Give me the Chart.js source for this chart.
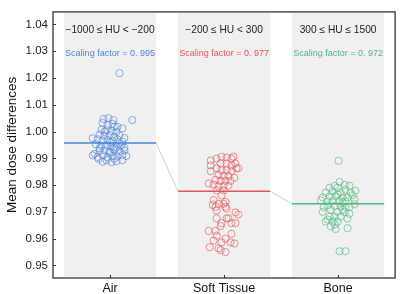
<!DOCTYPE html>
<html>
<head>
<meta charset="utf-8">
<script src="https://cdn.jsdelivr.net/npm/chart.js@4/dist/chart.umd.min.js"></script>
<style>
  html, body { margin: 0; padding: 0; background: #ffffff; }
  #wrap { width: 400px; height: 294px; }
</style>
</head>
<body>
<div id="wrap"><canvas id="doseChart" width="400" height="294"></canvas></div>
<script>
/* ---- data ---- */
const categories = ["Air", "Soft Tissue", "Bone"];
const rangeLabels = ["\u22121000 \u2264 HU < \u2212200", "\u2212200 \u2264 HU < 300", "300 \u2264 HU \u2264 1500"];
const factorLabels = ["Scaling factor = 0. 995", "Scaling factor = 0. 977", "Scaling factor = 0. 972"];
const meanValues = [0.9957, 0.9777, 0.9730];
const yTicks = [0.95, 0.96, 0.97, 0.98, 0.99, 1.00, 1.01, 1.02, 1.03, 1.04];

const airY = [1.0218, 1.0043, 1.0047, 1.0050, 1.0043, 1.0032, 1.0025, 1.0029, 1.0018, 1.0012,
  1.0007, 1.0005, 1.0002, 0.9999, 0.9989, 0.9984, 0.9987, 0.9980, 0.9986, 0.9975,
  0.9971, 0.9966, 0.9969, 0.9965, 0.9970, 0.9962, 0.9946, 0.9949, 0.9944, 0.9941,
  0.9947, 0.9940, 0.9928, 0.9930, 0.9925, 0.9931, 0.9926, 0.9929, 0.9911, 0.9905,
  0.9912, 0.9904, 0.9909, 0.9907, 0.9912, 0.9909, 0.9917, 0.9887, 0.9893, 0.9886,
  0.9889, 0.9893, 0.9899, 0.9953, 0.9960, 1.0018, 0.9999, 0.9956, 0.9938, 0.9921,
  0.9935, 0.9976, 0.9898];
const airJitter = [0.083, 0.196, -0.057, -0.013, 0.030, -0.065, -0.022, 0.022, 0.065, 0.109,
  -0.074, -0.030, 0.013, 0.057, -0.091, -0.048, -0.004, 0.039, 0.083, -0.152,
  -0.109, -0.065, -0.022, 0.022, 0.065, 0.109, -0.074, -0.030, 0.013, 0.057,
  0.100, 0.126, -0.091, -0.048, -0.004, 0.039, 0.083, 0.126, -0.152, -0.109,
  -0.065, -0.022, 0.022, 0.065, 0.109, 0.143, -0.135, -0.065, -0.030, 0.013,
  0.057, 0.109, 0.039, -0.126, 0.000, 0.039, -0.048, 0.083, -0.091, 0.000,
  0.030, 0.126, -0.100];

const softY = [0.9892, 0.9874, 0.9852, 0.9899, 0.9906, 0.9903, 0.9899, 0.9881, 0.9863, 0.9874,
  0.9881, 0.9881, 0.9863, 0.9856, 0.9856, 0.9852, 0.9838, 0.9834, 0.9834, 0.9820,
  0.9816, 0.9816, 0.9816, 0.9827, 0.9806, 0.9802, 0.9798, 0.9798, 0.9780, 0.9780,
  0.9795, 0.9863, 0.9906,
  0.9762, 0.9737, 0.9730, 0.9744, 0.9726, 0.9705, 0.9730, 0.9712, 0.9698, 0.9690,
  0.9676, 0.9658, 0.9676, 0.9658, 0.9647, 0.9629, 0.9629, 0.9618, 0.9600, 0.9568,
  0.9564, 0.9550, 0.9582, 0.9593, 0.9586, 0.9719, 0.9676, 0.9658, 0.9611, 0.9586,
  0.9557, 0.9719];
const softJitter = [-0.117, -0.117, -0.117, -0.065, -0.022, 0.022, 0.065, 0.100, 0.109, 0.065,
  0.022, -0.030, -0.065, -0.022, 0.022, 0.065, -0.048, -0.004, 0.039, -0.074,
  -0.030, 0.013, 0.057, 0.091, -0.135, -0.091, -0.004, 0.039, -0.065, -0.004,
  -0.048, 0.126, 0.083,
  -0.022, 0.013, -0.048, -0.091, -0.100, -0.065, -0.004, 0.022, 0.100, 0.126,
  0.039, 0.065, -0.065, -0.022, -0.030, -0.135, -0.074, 0.065, 0.013, -0.126,
  -0.048, 0.013, 0.091, -0.091, -0.022, -0.074, 0.022, 0.100, -0.065, 0.057,
  -0.030, 0.013];

const boneY = [0.9891, 0.9812, 0.9797, 0.9801, 0.9797, 0.9790, 0.9790, 0.9783, 0.9779, 0.9772,
  0.9776, 0.9772, 0.9772, 0.9754, 0.9758, 0.9758, 0.9754, 0.9754, 0.9747, 0.9740,
  0.9740, 0.9740, 0.9740, 0.9743, 0.9725, 0.9722, 0.9722, 0.9718, 0.9729, 0.9700,
  0.9708, 0.9700, 0.9700, 0.9693, 0.9682, 0.9682, 0.9682, 0.9675, 0.9664, 0.9664,
  0.9671, 0.9664, 0.9646, 0.9636, 0.9639, 0.9653, 0.9553, 0.9553, 0.9736, 0.9718,
  0.9718, 0.9708, 0.9762, 0.9765];
const boneJitter = [0.004, 0.013, -0.030, 0.057, 0.100, -0.074, -0.004, 0.065, 0.152, -0.109,
  -0.048, 0.022, 0.109, -0.135, -0.074, -0.022, 0.039, 0.083, 0.143, -0.091,
  -0.048, 0.013, 0.065, -0.152, -0.091, -0.030, 0.022, 0.065, 0.143, -0.135,
  -0.065, -0.004, 0.057, 0.100, -0.074, -0.030, 0.022, 0.083, -0.048, -0.004,
  -0.091, -0.109, -0.065, -0.022, 0.083, -0.030, 0.013, 0.065, 0.039, 0.100,
  -0.126, 0.039, 0.126, -0.004];

/* ---- styling ---- */
const groupColors = ["#4a84d8", "#e6555a", "#4fb97c"];
const pointColors = ["rgba(74,132,216,0.7)", "rgba(230,85,90,0.7)", "rgba(79,185,124,0.7)"];
const fontFamily = "'Liberation Sans', Arial, sans-serif";
const halfBand = 0.404;

function pointsFor(values, jitter, idx) {
    return values.map((v, i) => ({ x: idx + jitter[i], y: v }));
}

function scatterSet(values, jitter, idx) {
    return {
        type: "scatter",
        data: pointsFor(values, jitter, idx),
        pointRadius: 3.6,
        pointBorderWidth: 0.9,
        pointBorderColor: pointColors[idx],
        pointBackgroundColor: "rgba(255,255,255,0)",
        order: 2
    };
}

function meanLine(idx) {
    return {
        type: "line",
        data: [{ x: idx - halfBand, y: meanValues[idx] }, { x: idx + halfBand, y: meanValues[idx] }],
        borderColor: groupColors[idx],
        borderWidth: 1.5,
        pointRadius: 0,
        order: 1
    };
}

// grey connectors between the mean lines
const connector = {
    type: "line",
    data: [
        { x: halfBand, y: meanValues[0] }, { x: 1 - halfBand, y: meanValues[1] },
        { x: NaN, y: NaN },
        { x: 1 + halfBand, y: meanValues[1] }, { x: 2 - halfBand, y: meanValues[2] }
    ],
    borderColor: "#cfcfcf",
    borderWidth: 1,
    pointRadius: 0,
    spanGaps: false,
    order: 3
};

/* ---- background bands, frame, inward ticks, annotations ---- */
const decorPlugin = {
    id: "decor",
    beforeDatasetsDraw(chart) {
        const { ctx, chartArea, scales } = chart;
        ctx.save();
        ctx.fillStyle = "#f0f0f0";
        categories.forEach((c, i) => {
            const x0 = scales.x.getPixelForValue(i - halfBand);
            const x1 = scales.x.getPixelForValue(i + halfBand);
            ctx.fillRect(x0, chartArea.top + 1, x1 - x0, chartArea.bottom - chartArea.top - 2);
        });
        ctx.restore();
    },
    afterDraw(chart) {
        const { ctx, chartArea, scales } = chart;
        ctx.save();
        ctx.strokeStyle = "#333333";
        ctx.lineWidth = 1.3;
        ctx.strokeRect(chartArea.left, chartArea.top, chartArea.right - chartArea.left, chartArea.bottom - chartArea.top);

        ctx.lineWidth = 1;
        ctx.beginPath();
        yTicks.forEach(v => {
            const y = Math.round(scales.y.getPixelForValue(v)) + 0.5;
            ctx.moveTo(chartArea.left, y);
            ctx.lineTo(chartArea.left + 3, y);
        });
        categories.forEach((c, i) => {
            const x = Math.round(scales.x.getPixelForValue(i)) + 0.5;
            ctx.moveTo(x, chartArea.bottom);
            ctx.lineTo(x, chartArea.bottom - 3);
        });
        ctx.stroke();

        ctx.textAlign = "center";
        ctx.textBaseline = "middle";
        categories.forEach((c, i) => {
            const x = scales.x.getPixelForValue(i);
            ctx.fillStyle = "#222222";
            ctx.font = "10.2px " + fontFamily;
            ctx.fillText(rangeLabels[i], x, chartArea.top + 18);
            ctx.fillStyle = groupColors[i];
            ctx.font = "9px " + fontFamily;
            ctx.fillText(factorLabels[i], x, chartArea.top + 42);
        });
        ctx.restore();
    }
};

new Chart(document.getElementById("doseChart"), {
    data: {
        datasets: [
            connector,
            meanLine(0), meanLine(1), meanLine(2),
            scatterSet(airY, airJitter, 0),
            scatterSet(softY, softJitter, 1),
            scatterSet(boneY, boneJitter, 2)
        ]
    },
    options: {
        responsive: false,
        animation: false,
        devicePixelRatio: 1,
        layout: { padding: { top: 2, right: 2, left: 0, bottom: 0 } },
        plugins: {
            legend: { display: false },
            tooltip: { enabled: false }
        },
        scales: {
            x: {
                type: "linear",
                min: -0.5,
                max: 2.5,
                grid: { display: false, drawTicks: false },
                border: { display: false },
                afterBuildTicks: (scale) => { scale.ticks = categories.map((c, i) => ({ value: i })); },
                afterFit: (scale) => { scale.height = 16; },
                ticks: {
                    padding: 3,
                    color: "#111111",
                    font: { family: fontFamily, size: 12.5 },
                    maxRotation: 0,
                    callback: (v) => categories[v]
                }
            },
            y: {
                min: 0.9453,
                max: 1.0447,
                grid: { display: false, drawTicks: false },
                border: { display: false },
                afterBuildTicks: (scale) => { scale.ticks = yTicks.map(v => ({ value: v })); },
                afterFit: (scale) => { scale.width = 53; },
                title: {
                    display: true,
                    text: "Mean dose differences",
                    color: "#111111",
                    font: { family: fontFamily, size: 13.5 },
                    padding: { top: 4, bottom: 2 }
                },
                ticks: {
                    padding: 5,
                    color: "#222222",
                    font: { family: fontFamily, size: 11.5 },
                    callback: (v) => v.toFixed(2)
                }
            }
        }
    },
    plugins: [decorPlugin]
});
</script>
</body>
</html>
